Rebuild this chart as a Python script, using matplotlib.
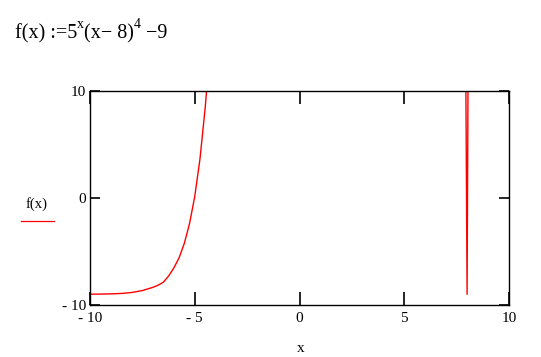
import numpy as np
import matplotlib
matplotlib.use("Agg")
import matplotlib.pyplot as plt

# values (points above 10 are clipped by the axes)
x_vals = [-10, -9.5, -9, -8.5, -8, -7.5, -7, -6.75, -6.5, -6.25, -6, -5.75,
          -5.5, -5.25, -5, -4.75, -4.5, -4.4, -4.0, 7.9, 8.0, 8.1]
y_vals = [-8.99, -8.98, -8.96, -8.92, -8.83, -8.65, -8.35, -8.15, -7.87, -7.3,
          -6.54, -5.6, -4.25, -2.4, 0.14, 3.66, 8.47, 10.9, 24, 24, -9, 36.8]
x_ticks = [-10, -5, 0, 5, 10]
y_ticks = [-10, 0, 10]

plt.rcParams["font.family"] = ["Liberation Serif", "DejaVu Serif"]

W, H = 541, 357
fig = plt.figure(figsize=(W / 100, H / 100), dpi=100)
ax = fig.add_axes([90 / W, 1 - 305 / H, 419 / W, 214 / H])

ax.plot(x_vals, y_vals, color="red", lw=1.0)
ax.set_xlim(-10, 10)
ax.set_ylim(-10, 10)
ax.set_xticks(x_ticks)
ax.set_yticks(y_ticks)
ax.set_yticklabels(["- 10", "0", "10"])
ax.set_xticklabels(["- 10", "- 5", "0", "5", "10"])
ax.tick_params(axis="x", direction="in", length=9.5, width=1.2, top=True,
               labelsize=11, pad=5)
ax.tick_params(axis="y", direction="in", length=7, width=1.2, right=True,
               labelsize=11, pad=3)
for s in ax.spines.values():
    s.set_linewidth(1.0)

# formula, built from pieces so the superscripts sit like Mathcad's
fs, fs_sup = 14.5, 10
t1 = fig.text(15 / W, 1 - 43 / H, "f(x) :=5", fontsize=fs, va="bottom")
s1 = ax.annotate("x", xy=(1, 0.62), xycoords=t1, fontsize=fs_sup,
                 va="bottom", annotation_clip=False)
t2 = ax.annotate("(x\u2212 8)", xy=(1, 0), xycoords=(s1, t1), fontsize=fs,
                 va="bottom", annotation_clip=False)
s2 = ax.annotate("4", xy=(1, 0.62), xycoords=t2, fontsize=fs_sup,
                 va="bottom", annotation_clip=False)
t3 = ax.annotate(" \u22129", xy=(1, 0), xycoords=(s2, t2), fontsize=fs,
                 va="bottom", annotation_clip=False)

# y label with legend line
fig.text(37 / W, 1 - 204 / H, "f(x)", fontsize=10.5, ha="center", va="center")
fig.add_artist(plt.Line2D([21 / W, 54 / W], [1 - 221 / H, 1 - 221 / H],
                          color="red", lw=0.9))

# x label
fig.text(301 / W, 1 - 349 / H, "x", fontsize=11, ha="center", va="center")

fig.savefig("out.png", dpi=100)
